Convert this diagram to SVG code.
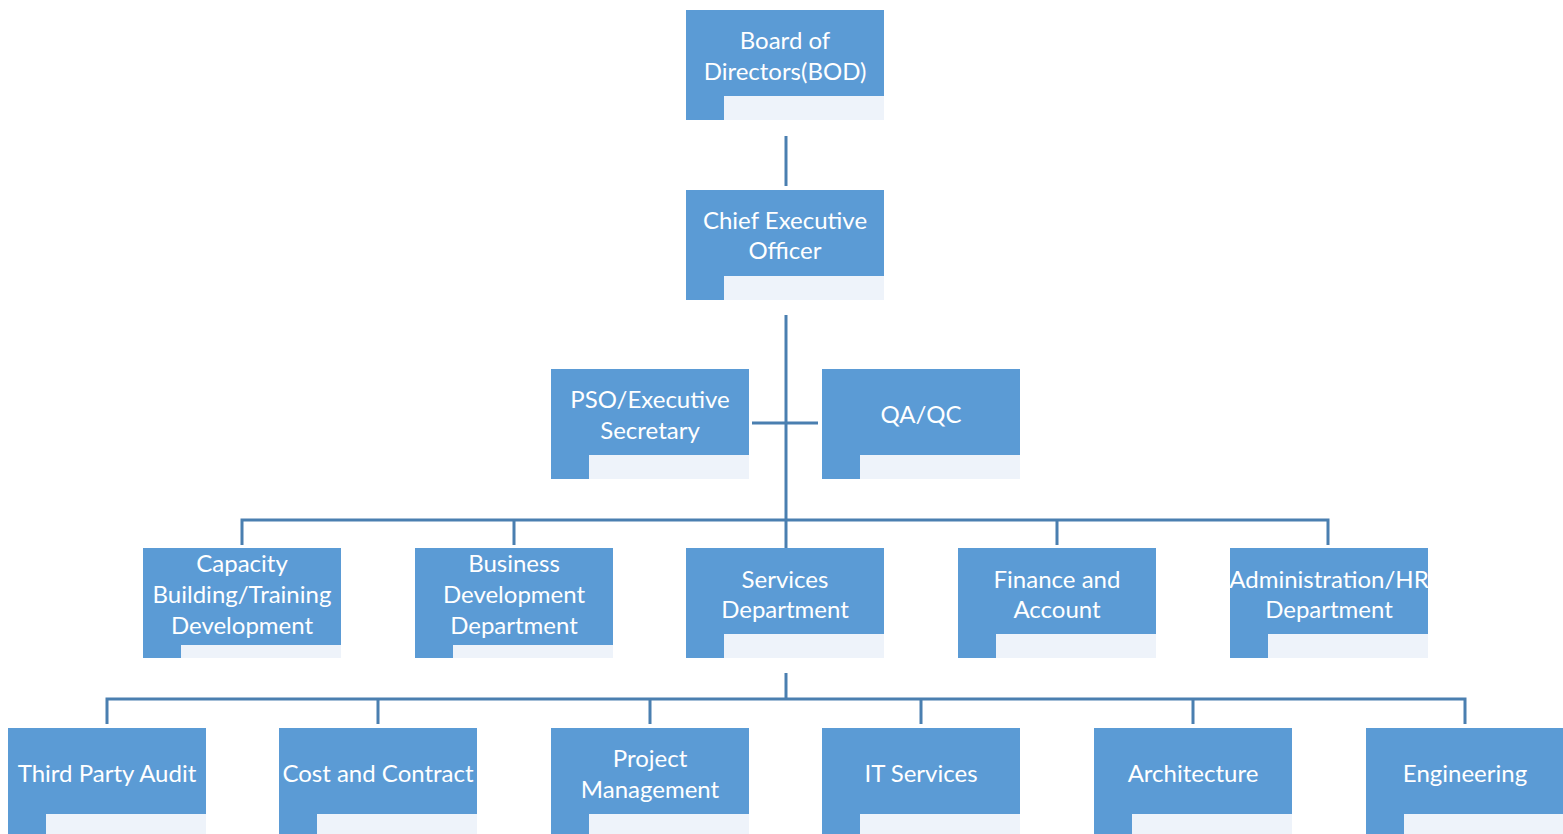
<svg xmlns="http://www.w3.org/2000/svg" width="1563" height="834" viewBox="0 0 1563 834">
<defs>
<style>
.b{fill:#5b9bd5}
.l{fill:#eef3fa}
.t{fill:#ffffff;font-family:Lato,"Open Sans",sans-serif;font-size:24px;text-anchor:middle}
.c{stroke:#4a7fb0;stroke-width:3;fill:none}
</style>
<g id="box">
<rect class="b" x="0" y="0" width="198" height="110"/>
<rect class="l" x="38" y="86" width="160" height="24"/>
</g>
<g id="box3">
<rect class="b" x="0" y="0" width="198" height="110"/>
<rect class="l" x="38" y="97" width="160" height="13"/>
</g>
</defs>
<rect width="1563" height="834" fill="#ffffff"/>
<g id="connectors">
<path class="c" d="M786 136V186"/>
<path class="c" d="M786 315V548"/>
<path class="c" d="M752 423H818"/>
<path class="c" d="M242 545V520H1328V545M514 520V545M1057 520V545"/>
<path class="c" d="M786 673V699"/>
<path class="c" d="M107 724V699H1465V724M378 699V724M650 699V724M921 699V724M1193 699V724"/>
</g>
<g id="bod"><use href="#box" x="686" y="10"/><text class="t" x="785" y="49">Board of</text><text class="t" x="785" y="80">Directors(BOD)</text></g>
<g id="ceo"><use href="#box" x="686" y="190"/><text class="t" x="785" y="229">Chief Executive</text><text class="t" x="785" y="259">Officer</text></g>
<g id="pso"><use href="#box" x="551" y="369"/><text class="t" x="650" y="408">PSO/Executive</text><text class="t" x="650" y="439">Secretary</text></g>
<g id="qaqc"><use href="#box" x="822" y="369"/><text class="t" x="921" y="423">QA/QC</text></g>
<g id="capacity"><use href="#box3" x="143" y="548"/><text class="t" x="242" y="572">Capacity</text><text class="t" x="242" y="603">Building/Training</text><text class="t" x="242" y="634">Development</text></g>
<g id="business"><use href="#box3" x="415" y="548"/><text class="t" x="514" y="572">Business</text><text class="t" x="514" y="603">Development</text><text class="t" x="514" y="634">Department</text></g>
<g id="services"><use href="#box" x="686" y="548"/><text class="t" x="785" y="588">Services</text><text class="t" x="785" y="618">Department</text></g>
<g id="finance"><use href="#box" x="958" y="548"/><text class="t" x="1057" y="588">Finance and</text><text class="t" x="1057" y="618">Account</text></g>
<g id="admin"><use href="#box" x="1230" y="548"/><text class="t" x="1329" y="588">Administration/HR</text><text class="t" x="1329" y="618">Department</text></g>
<g id="tpa"><use href="#box" x="8" y="728"/><text class="t" x="107" y="782">Third Party Audit</text></g>
<g id="cost"><use href="#box" x="279" y="728"/><text class="t" x="378" y="782">Cost and Contract</text></g>
<g id="pm"><use href="#box" x="551" y="728"/><text class="t" x="650" y="767">Project</text><text class="t" x="650" y="798">Management</text></g>
<g id="it"><use href="#box" x="822" y="728"/><text class="t" x="921" y="782">IT Services</text></g>
<g id="arch"><use href="#box" x="1094" y="728"/><text class="t" x="1193" y="782">Architecture</text></g>
<g id="eng"><use href="#box" x="1366" y="728"/><text class="t" x="1465" y="782">Engineering</text></g>
</svg>
